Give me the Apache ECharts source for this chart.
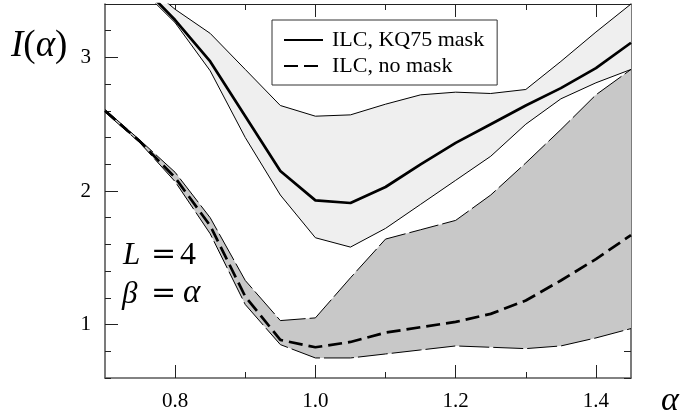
<!DOCTYPE html>
<html>
<head>
<meta charset="utf-8">
<script src="https://cdn.jsdelivr.net/npm/echarts@6/dist/echarts.min.js"></script>
<style>
html,body{margin:0;padding:0;background:#fff;}
#c{width:680px;height:412px;}
</style>
</head>
<body>
<div id="c"></div>
<script>
// ---- data ----
const alpha   = [0.70,0.75,0.80,0.85,0.90,0.95,1.00,1.05,1.10,1.15,1.20,1.25,1.30,1.35,1.40,1.45];
const kqMean  = [null,3.55,3.28,2.97,2.56,2.15,1.93,1.91,2.03,2.20,2.36,2.50,2.64,2.77,2.92,3.11];
const kqUpper = [null,3.58,3.36,3.18,2.91,2.64,2.56,2.57,2.65,2.72,2.74,2.73,2.76,2.97,3.19,3.40];
const kqLower = [null,3.52,3.26,2.90,2.40,1.97,1.65,1.58,1.72,1.90,2.08,2.26,2.50,2.69,2.81,2.91];
const nmMean  = [2.60,2.37,2.10,1.74,1.21,0.885,0.83,0.87,0.94,0.98,1.02,1.08,1.18,1.33,1.49,1.67];
const nmUpper = [2.61,2.38,2.14,1.80,1.33,1.03,1.05,1.35,1.64,1.71,1.78,1.97,2.21,2.46,2.72,2.91];
const nmLower = [2.59,2.36,2.07,1.68,1.15,0.85,0.75,0.75,0.78,0.81,0.84,0.83,0.82,0.84,0.90,0.97];
const xMajorTicks = [0.8,1.0,1.2,1.4];          // labelled, long ticks
const xMinorTicks = [0.9,1.1,1.3];              // short ticks
const yMajorTicks = [1,2,3];                    // labelled, long ticks
const yTickSteps  = [0.6,0.8,1.0,1.2,1.4,1.6,1.8,2.0,2.2,2.4,2.6,2.8,3.0,3.2,3.4]; // short ticks
const seriesNames = ['ILC, KQ75 mask','ILC, no mask'];

// ---- build ----
const pairs = (arr) => alpha.map((a,i) => [a, arr[i]]);
const SERIF = '"Liberation Serif", "DejaVu Serif", serif';
const AX = '#5a5a5a';
const TICK = {color:'#222', width:1};
const near = (list) => (i, v) => list.some(t => Math.abs(parseFloat(v) - t) < 1e-6);
const xCats = alpha.map(a => a.toFixed(2));
const yCats = yTickSteps.map(v => v.toFixed(1));

// category "tick rulers" that sit exactly on the value axes (boundaryGap:false, evenly spaced)
function xTickAxis(pos, list, len, line) {
  return {type:'category', position:pos, data:xCats, boundaryGap:false, gridIndex:0,
    axisLine:line ? {show:true, lineStyle:line} : {show:false},
    axisTick:{show:true, inside:true, length:len, interval:near(list), lineStyle:TICK},
    axisLabel:{show:false}, splitLine:{show:false}};
}
function yTickAxis(pos, list, len, line) {
  return {type:'category', position:pos, data:yCats, boundaryGap:false, gridIndex:0,
    axisLine:line ? {show:true, lineStyle:line} : {show:false},
    axisTick:{show:true, inside:true, length:len, interval:near(list), lineStyle:TICK},
    axisLabel:{show:false}, splitLine:{show:false}};
}

const thinLine = (name, data, dashed) => ({
  name, type:'line', data, symbol:'none', silent:true, z:4,
  lineStyle:{color:'#000', width:1, type: dashed ? [30,4] : 'solid'}
});

function bandSeries(name, up, lo, color, z) {
  const first = alpha.findIndex((a,i) => up[i] != null && lo[i] != null);
  return {
    name, type:'custom', z, silent:true, clip:true,
    data: alpha.map((a,i) => [a, lo[i] == null ? NaN : lo[i], up[i] == null ? NaN : up[i]]),
    encode:{x:0, y:[1,2]},
    renderItem:(params, api) => {
      if (params.dataIndex !== first) return null;
      const top = [], bot = [];
      alpha.forEach((a,i) => {
        if (up[i] != null && lo[i] != null) {
          top.push(api.coord([a, up[i]]));
          bot.push(api.coord([a, lo[i]]));
        }
      });
      const cs = params.coordSys;
      return {
        type:'group',
        clipPath:{type:'rect', shape:{x:cs.x, y:cs.y, width:cs.width, height:cs.height}},
        children:[{type:'polygon', shape:{points: top.concat(bot.reverse())}, style:{fill:color, stroke:null}}]
      };
    }
  };
}

const option = {
  animation:false,
  backgroundColor:'#fff',
  grid:{left:105, right:49, top:4, bottom:32, containLabel:false},
  xAxis:[
    {type:'value', position:'bottom', min:0.7, max:1.45, gridIndex:0, splitLine:{show:false},
      axisLine:{show:true, lineStyle:{color:AX, width:1.6}}, axisTick:{show:false},
      axisLabel:{show:true, customValues:xMajorTicks, margin:13,
        formatter:(v)=>v.toFixed(1), fontFamily:SERIF, fontSize:21, color:'#000'}},
    xTickAxis('bottom', xMajorTicks, 13, null),
    xTickAxis('bottom', xMinorTicks, 6, null),
    xTickAxis('top', xMajorTicks, 13, {color:'#222', width:1}),
    xTickAxis('top', xMinorTicks, 6, null)
  ],
  yAxis:[
    {type:'value', position:'left', min:0.6, max:3.4, gridIndex:0, splitLine:{show:false},
      axisLine:{show:true, lineStyle:{color:AX, width:1.6}}, axisTick:{show:false},
      axisLabel:{show:true, customValues:yMajorTicks, margin:14,
        formatter:(v)=>String(Math.round(v)), fontFamily:SERIF, fontSize:21, color:'#000'}},
    yTickAxis('left', yMajorTicks, 13, null),
    yTickAxis('left', yTickSteps, 6, null),
    yTickAxis('right', yTickSteps, 7, {color:AX, width:1.6})
  ],
  legend:{
    data:seriesNames, orient:'vertical', left:272, top:20,
    itemWidth:39, itemHeight:14, itemGap:4,
    padding:[9,13,8,11], borderColor:'#333', borderWidth:1, borderRadius:0,
    backgroundColor:'#fff', selectedMode:false, z:20,
    itemStyle:{color:'rgba(0,0,0,0)', borderWidth:0, opacity:0},
    textStyle:{fontFamily:SERIF, fontSize:22, color:'#000', lineHeight:22, padding:[0,0,0,4]}
  },
  graphic:[
    {type:'text', left:11, top:28, z:50, style:{
      text:'{i|I}{n|(}{i|α}{n|)}',
      rich:{ i:{fontFamily:SERIF, fontStyle:'italic', fontSize:37, fill:'#000'},
             n:{fontFamily:SERIF, fontSize:37, fill:'#000'} }}},
    {type:'text', left:661, top:384, z:50, style:{text:'α', font:'italic 34px "Liberation Serif"', fill:'#000'}},
    {type:'text', left:123, top:240, z:50, style:{text:'L', font:'italic 31px "Liberation Serif"', fill:'#000'}},
    {type:'text', left:151, top:240, z:50, style:{text:'=', font:'30px "DejaVu Serif"', fill:'#000'}},
    {type:'text', left:180, top:240, z:50, style:{text:'4', font:'32px "Liberation Serif"', fill:'#000'}},
    {type:'text', left:122, top:279, z:50, style:{text:'β', font:'italic 31px "Liberation Serif"', fill:'#000'}},
    {type:'text', left:151, top:279, z:50, style:{text:'=', font:'30px "DejaVu Serif"', fill:'#000'}},
    {type:'text', left:183, top:277, z:50, style:{text:'α', font:'italic 33px "Liberation Serif"', fill:'#000'}}
  ],
  series:[
    bandSeries('kqBand', kqUpper, kqLower, '#efefef', 1),
    bandSeries('nmBand', nmUpper, nmLower, '#c8c8c8', 2),
    thinLine('kqUpper', pairs(kqUpper), false),
    thinLine('kqLower', pairs(kqLower), false),
    thinLine('nmUpper', pairs(nmUpper), true),
    thinLine('nmLower', pairs(nmLower), true),
    {name:seriesNames[0], type:'line', data:pairs(kqMean), symbol:'none', silent:true, z:6,
      lineStyle:{color:'#000', width:2.7, type:'solid'}, itemStyle:{color:'#000'}},
    {name:seriesNames[1], type:'line', data:pairs(nmMean), symbol:'none', silent:true, z:6,
      lineStyle:{color:'#000', width:2.7, type:[14,6]}, itemStyle:{color:'#000'}}
  ]
};
const chart = echarts.init(document.getElementById('c'), null, {renderer:'canvas'});
chart.setOption(option);
</script>
</body>
</html>
